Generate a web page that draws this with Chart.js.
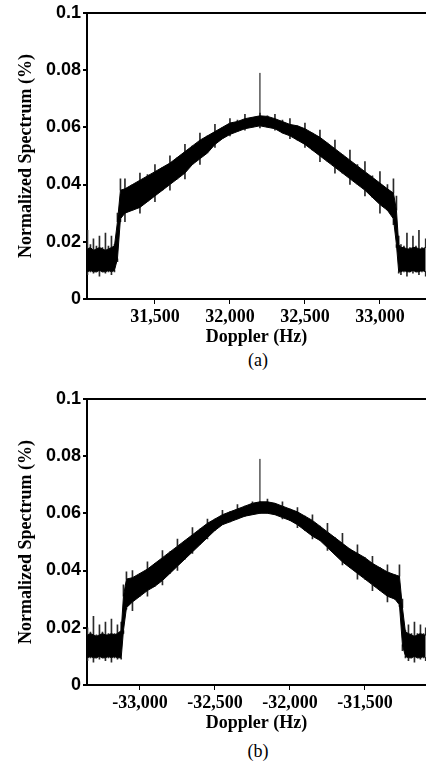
<!DOCTYPE html>
<html>
<head>
<meta charset="utf-8">
<script src="https://cdn.jsdelivr.net/npm/chart.js@4"></script>
<style>
  body { margin: 0; background: #fff; width: 426px; height: 765px; position: relative; overflow: hidden; }
  .panel { position: absolute; left: 0; width: 426px; height: 350px; }
  .cap { position: absolute; left: 0; width: 516px; text-align: center; font: 18px "Liberation Serif", "Times New Roman", serif; color: #000; }
</style>
</head>
<body>
<div class="panel" style="top:0"><canvas id="chart-a" width="426" height="350"></canvas></div>
<div class="cap" style="top:350px">(a)</div>
<div class="panel" style="top:386px"><canvas id="chart-b" width="426" height="350"></canvas></div>
<div class="cap" style="top:741px">(b)</div>
<script>
// panel (a): positive Doppler
// core = dense black band, tips = ends of the noise spikes above/below it
var dopplerA = [31050, 31070, 31090, 31110, 31130, 31150, 31170, 31190, 31210, 31230,
    31250, 31270,
    31300, 31350, 31400, 31450, 31500, 31550, 31600, 31650, 31700, 31750, 31800, 31850, 31900, 31950, 32000, 32050, 32100, 32150,
    32200, 32250, 32300, 32350, 32400, 32450, 32500, 32550, 32600, 32650, 32700, 32750, 32800, 32850, 32900, 32950, 33000, 33050,
    33090, 33110, 33125,
    33140, 33160, 33180, 33200, 33220, 33240, 33260, 33280, 33305];
var coreUpA = [0.0175, 0.018, 0.017, 0.0175, 0.018, 0.0175, 0.017, 0.0175, 0.018, 0.0185,
    0.027, 0.038,
    0.0385, 0.040, 0.0415, 0.043, 0.0445, 0.046, 0.0475, 0.0495, 0.0515, 0.0535, 0.0555, 0.057, 0.0585, 0.060, 0.0615, 0.062, 0.063, 0.0635,
    0.064, 0.0638, 0.063, 0.062, 0.061, 0.0605, 0.0595, 0.058, 0.0565, 0.0545, 0.0525, 0.0505, 0.0485, 0.0465, 0.0445, 0.0425, 0.0405, 0.0385,
    0.037, 0.031, 0.019,
    0.018, 0.018, 0.0175, 0.0175, 0.018, 0.018, 0.0175, 0.0175, 0.018];
var coreLoA = [0.0095, 0.010, 0.0095, 0.0095, 0.010, 0.0095, 0.0095, 0.010, 0.0095, 0.010,
    0.014, 0.028,
    0.030, 0.031, 0.032, 0.034, 0.036, 0.038, 0.040, 0.042, 0.044, 0.047, 0.049, 0.051, 0.054, 0.056, 0.0575, 0.0585, 0.0595, 0.060,
    0.0605, 0.060, 0.0595, 0.058, 0.057, 0.0555, 0.054, 0.052, 0.050, 0.048, 0.046, 0.044, 0.042, 0.040, 0.038, 0.0355, 0.033, 0.031,
    0.028, 0.019, 0.0095,
    0.0095, 0.010, 0.0095, 0.0095, 0.010, 0.0095, 0.0095, 0.010, 0.0095];
var tipUpA = [0.024, 0.019, 0.021, 0.0185, 0.022, 0.018, 0.023, 0.0185, 0.022, 0.019,
    0.030, 0.042,
    0.042, 0.040, 0.044, 0.0435, 0.047, 0.046, 0.050, 0.0495, 0.054, 0.0535, 0.058, 0.057, 0.061, 0.060, 0.063, 0.0625, 0.0645, 0.0635,
    0.065, 0.064, 0.0645, 0.0625, 0.063, 0.0605, 0.0615, 0.058, 0.059, 0.0545, 0.0555, 0.0505, 0.052, 0.047, 0.048, 0.043, 0.0445, 0.040,
    0.042, 0.036, 0.022,
    0.019, 0.0185, 0.023, 0.018, 0.022, 0.0185, 0.024, 0.018, 0.021];
var tipLoA = [0.0085, 0.0095, 0.009, 0.0095, 0.008, 0.0095, 0.009, 0.0095, 0.0085, 0.0095,
    0.013, 0.027,
    0.027, 0.031, 0.030, 0.034, 0.034, 0.038, 0.038, 0.042, 0.042, 0.047, 0.047, 0.051, 0.053, 0.056, 0.057, 0.0585, 0.059, 0.060,
    0.0598, 0.060, 0.059, 0.058, 0.056, 0.0555, 0.053, 0.052, 0.048, 0.048, 0.044, 0.044, 0.040, 0.040, 0.036, 0.0355, 0.030, 0.031,
    0.026, 0.018, 0.009,
    0.0085, 0.0095, 0.008, 0.0095, 0.009, 0.0095, 0.0085, 0.0095, 0.008];
var spikeXA = [32200, 32200];
var spikeA = [0.063, 0.079];

// panel (b): negative Doppler
var dopplerB = [-33350, -33330, -33310, -33290, -33270, -33250, -33230, -33210, -33190, -33170, -33150,
    -33125, -33110, -33090,
    -33050, -33000, -32950, -32900, -32850, -32800, -32750, -32700, -32650, -32600, -32550, -32500, -32450, -32400, -32350, -32300, -32250, -32200,
    -32150, -32100, -32050, -32000, -31950, -31900, -31850, -31800, -31750, -31700, -31650, -31600, -31550, -31500, -31450, -31400, -31350, -31300,
    -31270, -31250,
    -31230, -31210, -31190, -31170, -31150, -31130, -31110, -31095];
var coreUpB = [0.0175, 0.018, 0.0175, 0.017, 0.0175, 0.018, 0.0175, 0.0175, 0.018, 0.0175, 0.018,
    0.019, 0.031, 0.037,
    0.0375, 0.039, 0.0405, 0.0425, 0.0445, 0.0465, 0.0485, 0.0505, 0.0525, 0.0545, 0.0565, 0.058, 0.0595, 0.0605, 0.0615, 0.0625, 0.0635, 0.064,
    0.064, 0.0635, 0.0625, 0.0615, 0.0605, 0.059, 0.0575, 0.0555, 0.0535, 0.0515, 0.0495, 0.0475, 0.046, 0.0445, 0.0425, 0.041, 0.0395, 0.0385,
    0.038, 0.027,
    0.0185, 0.018, 0.0175, 0.017, 0.0175, 0.018, 0.0175, 0.0175];
var coreLoB = [0.0095, 0.010, 0.0095, 0.0095, 0.010, 0.0095, 0.0095, 0.010, 0.0095, 0.010, 0.0095,
    0.0095, 0.019, 0.027,
    0.029, 0.031, 0.033, 0.0345, 0.0365, 0.039, 0.0415, 0.044, 0.0465, 0.049, 0.0515, 0.054, 0.056, 0.057, 0.058, 0.059, 0.0595, 0.060,
    0.060, 0.0595, 0.0585, 0.0575, 0.056, 0.054, 0.052, 0.0505, 0.048, 0.0455, 0.043, 0.041, 0.039, 0.037, 0.035, 0.033, 0.031, 0.030,
    0.028, 0.014,
    0.010, 0.0095, 0.0095, 0.010, 0.0095, 0.0095, 0.010, 0.0095];
var tipUpB = [0.020, 0.0185, 0.024, 0.0175, 0.021, 0.0185, 0.022, 0.018, 0.023, 0.018, 0.021,
    0.022, 0.035, 0.0395,
    0.040, 0.039, 0.043, 0.0425, 0.047, 0.0465, 0.051, 0.0505, 0.055, 0.0545, 0.058, 0.058, 0.061, 0.0605, 0.063, 0.0625, 0.064, 0.064,
    0.065, 0.0635, 0.064, 0.0615, 0.062, 0.059, 0.0595, 0.0555, 0.0565, 0.0515, 0.053, 0.0475, 0.049, 0.0445, 0.045, 0.041, 0.042, 0.0385,
    0.042, 0.030,
    0.019, 0.021, 0.018, 0.022, 0.018, 0.021, 0.018, 0.020];
var tipLoB = [0.0085, 0.0095, 0.008, 0.0095, 0.009, 0.0095, 0.0085, 0.0095, 0.008, 0.0095, 0.009,
    0.009, 0.018, 0.0265,
    0.026, 0.031, 0.031, 0.0345, 0.035, 0.039, 0.040, 0.044, 0.046, 0.049, 0.051, 0.054, 0.056, 0.057, 0.058, 0.059, 0.0595, 0.060,
    0.060, 0.0595, 0.058, 0.0575, 0.055, 0.054, 0.051, 0.0505, 0.047, 0.0455, 0.042, 0.041, 0.037, 0.037, 0.033, 0.033, 0.029, 0.030,
    0.0275, 0.012,
    0.0095, 0.0085, 0.0095, 0.008, 0.0095, 0.009, 0.0095, 0.0085];
var spikeXB = [-32200, -32200];
var spikeB = [0.063, 0.079];

var xTicksA = [31500, 32000, 32500, 33000];
var xTicksB = [-33000, -32500, -32000, -31500];
var yTicks = [0, 0.02, 0.04, 0.06, 0.08, 0.1];

var serif = '"Liberation Serif", "Times New Roman", serif';
var sans = '"Liberation Sans", Arial, sans-serif';

function pts(xs, ys) {
    return xs.map(function (x, i) { return { x: x, y: ys[i] }; });
}

// floating bars from a to b: thin noise spikes
function ranges(xs, a, b) {
    return xs.map(function (x, i) { return { x: x, y: [a[i], b[i]] }; });
}

function line(data, fill) {
    return {
        type: 'line', data: data, borderColor: '#000', borderWidth: 1, pointRadius: 0,
        fill: fill === undefined ? false : fill, backgroundColor: '#000'
    };
}

function spikes(data) {
    return {
        type: 'bar', data: data, backgroundColor: '#2a2a2a', borderWidth: 0,
        barThickness: 1, grouped: false
    };
}

function makeChart(id, xs, cUp, cLo, tUp, tLo, sx, sy, xmin, xmax, xticks) {
    return new Chart(document.getElementById(id), {
        type: 'line',
        data: {
            datasets: [
                line(pts(xs, cLo)),
                line(pts(xs, cUp), 0),
                spikes(ranges(xs, cUp, tUp)),
                spikes(ranges(xs, tLo, cLo)),
                line(pts(sx, sy))
            ]
        },
        options: {
            responsive: false,
            animation: false,
            events: [],
            layout: { padding: { top: 12, left: 0, right: 0, bottom: 0 } },
            plugins: { legend: { display: false }, tooltip: { enabled: false } },
            scales: {
                x: {
                    type: 'linear',
                    offset: false,
                    min: xmin,
                    max: xmax,
                    afterBuildTicks: function (s) { s.ticks = xticks.map(function (v) { return { value: v }; }); },
                    afterFit: function (s) { s.height = 51; },
                    border: { color: '#000', width: 2 },
                    grid: { drawOnChartArea: false, offset: false, tickLength: 5, color: '#000', lineWidth: 1 },
                    ticks: {
                        color: '#000', padding: 3, maxRotation: 0,
                        font: { family: serif, size: 18, weight: 'bold' },
                        callback: function (v) { return v.toLocaleString('en-US'); }
                    },
                    title: {
                        display: true, text: 'Doppler (Hz)', color: '#000',
                        font: { family: serif, size: 18, weight: 'bold' },
                        padding: { top: 0, bottom: 2 }
                    }
                },
                y: {
                    min: 0,
                    max: 0.1,
                    afterBuildTicks: function (s) { s.ticks = yTicks.map(function (v) { return { value: v }; }); },
                    afterFit: function (s) { s.width = 87; },
                    border: { color: '#000', width: 2 },
                    grid: {
                        drawOnChartArea: true, tickLength: 4, tickColor: '#000', lineWidth: 2,
                        color: function (c) { return c.tick && c.tick.value === 0.1 ? '#000' : 'rgba(0,0,0,0)'; }
                    },
                    ticks: {
                        color: '#000', padding: 2,
                        font: { family: sans, size: 18, weight: 'bold' },
                        callback: function (v) { return String(Number(v.toFixed(2))); }
                    },
                    title: {
                        display: true, text: 'Normalized Spectrum (%)', color: '#000',
                        font: { family: serif, size: 18, weight: 'bold' },
                        padding: { top: 16, bottom: 0 }
                    }
                }
            }
        }
    });
}

var chartA = makeChart('chart-a', dopplerA, coreUpA, coreLoA, tipUpA, tipLoA, spikeXA, spikeA, 31047, 33307, xTicksA);
var chartB = makeChart('chart-b', dopplerB, coreUpB, coreLoB, tipUpB, tipLoB, spikeXB, spikeB, -33353, -31093, xTicksB);
</script>
</body>
</html>
